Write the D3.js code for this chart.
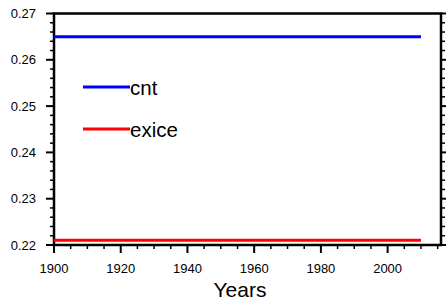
<!DOCTYPE html>
<html>
<head>
<meta charset="utf-8">
<script src="https://cdn.jsdelivr.net/npm/d3@7"></script>
<style>
  body { margin: 0; background: #fff; }
  text { font-family: "Liberation Sans", Arial, Helvetica, sans-serif; }
</style>
</head>
<body>
<div id="chart"></div>
<script>
// series data
const seriesNames = ["cnt", "exice"];
const seriesColors = ["#0000ff", "#ff0000"];
const years = [1900, 2010];
const cntValues = [0.265, 0.265];
const exiceValues = [0.221, 0.221];
const xTicks = [1900, 1920, 1940, 1960, 1980, 2000];
const yTicks = [0.22, 0.23, 0.24, 0.25, 0.26, 0.27];

const width = 446, height = 303;
const margin = { left: 54, right: 5, top: 13.5, bottom: 58 };

const svg = d3.select("#chart").append("svg")
  .attr("width", width)
  .attr("height", height);

const x = d3.scaleLinear().domain([1900, 2016]).range([margin.left, width - margin.right]);
const y = d3.scaleLinear().domain([0.22, 0.27]).range([height - margin.bottom, margin.top]);

const x0 = x.range()[0], x1 = x.range()[1];
const y0 = y.range()[0], y1 = y.range()[1];

// minor ticks
const xMinor = d3.range(1900, 2016, 5).filter(v => v % 20 !== 0);
const yMinor = d3.range(0, 26).map(i => 0.22 + i * 0.002).filter((v, i) => i % 5 !== 0);

// bottom axis
const gx = svg.append("g").attr("transform", `translate(0,${y0})`);
gx.selectAll("line.major").data(xTicks).join("line")
  .attr("x1", d => x(d)).attr("x2", d => x(d))
  .attr("y1", 0).attr("y2", 8)
  .attr("stroke", "#000").attr("stroke-width", 2);
gx.selectAll("line.minor").data(xMinor).join("line")
  .attr("x1", d => x(d)).attr("x2", d => x(d))
  .attr("y1", 0).attr("y2", 4)
  .attr("stroke", "#000").attr("stroke-width", 1.5);
gx.selectAll("text").data(xTicks).join("text")
  .attr("x", d => x(d)).attr("y", 28)
  .attr("text-anchor", "middle")
  .attr("font-size", 13)
  .text(d => d);

// left and right axis ticks
[{ side: x0, dir: -1 }, { side: x1, dir: 1 }].forEach(({ side, dir }) => {
  const g = svg.append("g");
  g.selectAll("line.major").data(yTicks).join("line")
    .attr("x1", side).attr("x2", side + dir * 8)
    .attr("y1", d => y(d)).attr("y2", d => y(d))
    .attr("stroke", "#000").attr("stroke-width", 2);
  g.selectAll("line.minor").data(yMinor).join("line")
    .attr("x1", side).attr("x2", side + dir * 4)
    .attr("y1", d => y(d)).attr("y2", d => y(d))
    .attr("stroke", "#000").attr("stroke-width", 1.5);
});

svg.append("g").selectAll("text").data(yTicks).join("text")
  .attr("x", 36).attr("y", d => y(d) + 4.5)
  .attr("text-anchor", "end")
  .attr("font-size", 13)
  .text(d => d.toFixed(2));

// frame
svg.append("rect")
  .attr("x", x0).attr("y", y1)
  .attr("width", x1 - x0).attr("height", y0 - y1)
  .attr("fill", "none").attr("stroke", "#000").attr("stroke-width", 2.5);

// series lines
const line = d3.line().x((d, i) => x(years[i])).y(d => y(d));
[cntValues, exiceValues].forEach((vals, i) => {
  svg.append("path")
    .attr("d", line(vals))
    .attr("fill", "none")
    .attr("stroke", seriesColors[i])
    .attr("stroke-width", 3);
});

// legend
seriesNames.forEach((name, i) => {
  const ly = 87 + i * 42;
  svg.append("line")
    .attr("x1", 83).attr("x2", 130)
    .attr("y1", ly).attr("y2", ly)
    .attr("stroke", seriesColors[i]).attr("stroke-width", 3);
  svg.append("text")
    .attr("x", 130).attr("y", ly + 7.5)
    .attr("font-size", 20.5)
    .text(name);
});

// axis title
svg.append("text")
  .attr("x", 240).attr("y", 297)
  .attr("text-anchor", "middle")
  .attr("font-size", 21)
  .text("Years");
</script>
</body>
</html>
